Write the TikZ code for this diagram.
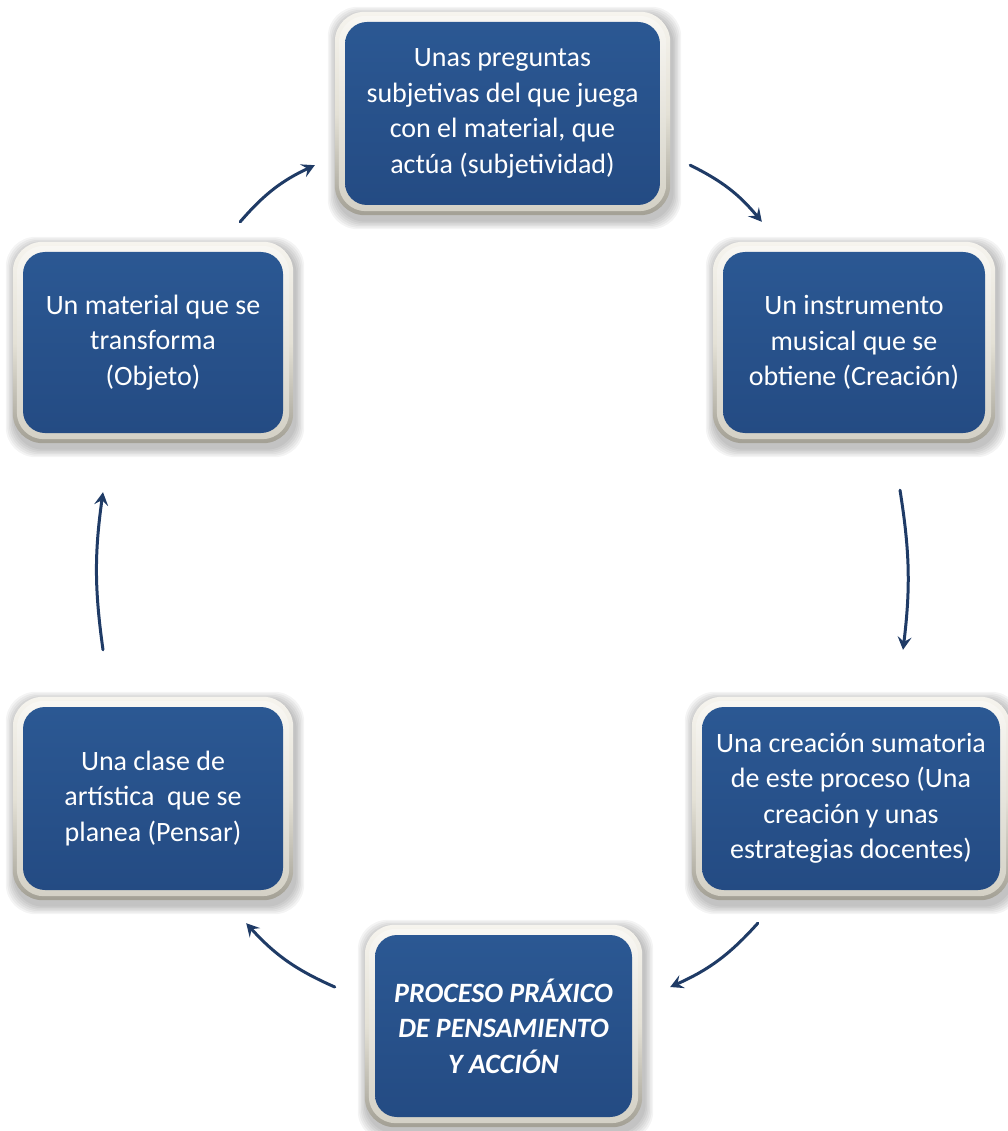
\documentclass[tikz,border=0pt]{standalone}
\usepackage{fontspec}
\setmainfont{Carlito}
\usetikzlibrary{backgrounds,arrows.meta,calc}
\definecolor{bluehi}{HTML}{2B5893}
\definecolor{bluelo}{HTML}{244B83}
\definecolor{framehi}{HTML}{F6F4EE}
\definecolor{framemid}{HTML}{E4E1D6}
\definecolor{framelo}{HTML}{A3A095}
\definecolor{arrowcol}{HTML}{1F3B66}
\tikzset{
  bluebox/.style={rounded corners=22pt, top color=bluehi, bottom color=bluelo,
    text=white, align=center, inner sep=0pt,
    font=\fontsize{28}{35.5}\selectfont},
  procbox/.style={bluebox, font=\fontsize{28}{35.5}\selectfont\bfseries\itshape},
  arr/.style={draw=arrowcol, line width=3pt, line cap=round,
    -{Stealth[length=13pt,width=14pt,inset=5pt]}},
}
\newcommand{\boxdeco}[1]{%
  \foreach \k in {1,...,6}{%
    \fill[black, opacity=0.045, rounded corners=30pt]
      ([shift={(-10-\k*1.5+2,-10-\k*1.5-5)}]#1.south west) rectangle
      ([shift={(10+\k*1.5+2,10+\k*1.5-4)}]#1.north east);
  }%
  \shade[rounded corners=30pt, top color=framehi, bottom color=framelo, middle color=framemid]
    ([shift={(-10,-10)}]#1.south west) rectangle ([shift={(10,10)}]#1.north east);
  \shade[rounded corners=27pt, top color=framehi!70!white, bottom color=framemid!75!framelo]
    ([shift={(-6,-6)}]#1.south west) rectangle ([shift={(6,6)}]#1.north east);
}
\begin{document}
\begin{tikzpicture}[x=1pt,y=1pt]
\useasboundingbox (0,0) rectangle (1007,-1131);

\node[bluebox, minimum width=315pt, minimum height=183pt] (T) at (502.5,-113.5)
  {Unas preguntas\\subjetivas del que juega\\con el material, que\\actúa (subjetividad)};
\node[bluebox, minimum width=260pt, minimum height=181pt] (L) at (153,-342.5)
  {Un material que se\\transforma\\(Objeto)};
\node[bluebox, minimum width=262pt, minimum height=181pt] (R) at (854,-342.5)
  {Un instrumento\\musical que se\\obtiene (Creación)};
\node[bluebox, minimum width=298pt, minimum height=183pt] (LR) at (851,-798.5)
  {Una creación sumatoria\\de este proceso (Una\\creación y unas\\estrategias docentes)};
\node[bluebox, minimum width=260pt, minimum height=183pt] (LL) at (153,-798.5)
  {Una clase de\\artística \ que se\\planea (Pensar)};
\node[procbox, minimum width=257pt, minimum height=182pt] (B) at (503.5,-1026)
  {PROCESO PRÁXICO\\DE PENSAMIENTO\\Y ACCIÓN};

\begin{scope}[on background layer]
  \boxdeco{T}\boxdeco{L}\boxdeco{R}\boxdeco{LR}\boxdeco{LL}\boxdeco{B}
\end{scope}

\draw[arr] ([shift={(-43,30)}]L.north east) to[bend left=12] ([shift={(-30,40)}]T.south west);
\draw[arr] ([shift={(30,40)}]T.south east) to[bend left=12] ([shift={(39,30)}]R.north west);
\draw[arr] ([shift={(46,-57)}]R.south) to[bend left=8] ([shift={(52,57)}]LR.north);
\draw[arr] ([shift={(56,-33)}]LR.south west) to[bend left=12] ([shift={(38,39)}]B.east);
\draw[arr] ([shift={(-40,39)}]B.west) to[bend left=12] ([shift={(-37,-33)}]LL.south east);
\draw[arr] ([shift={(-50,57)}]LL.north) to[bend left=8] ([shift={(-50,-59)}]L.south);
\end{tikzpicture}
\end{document}
